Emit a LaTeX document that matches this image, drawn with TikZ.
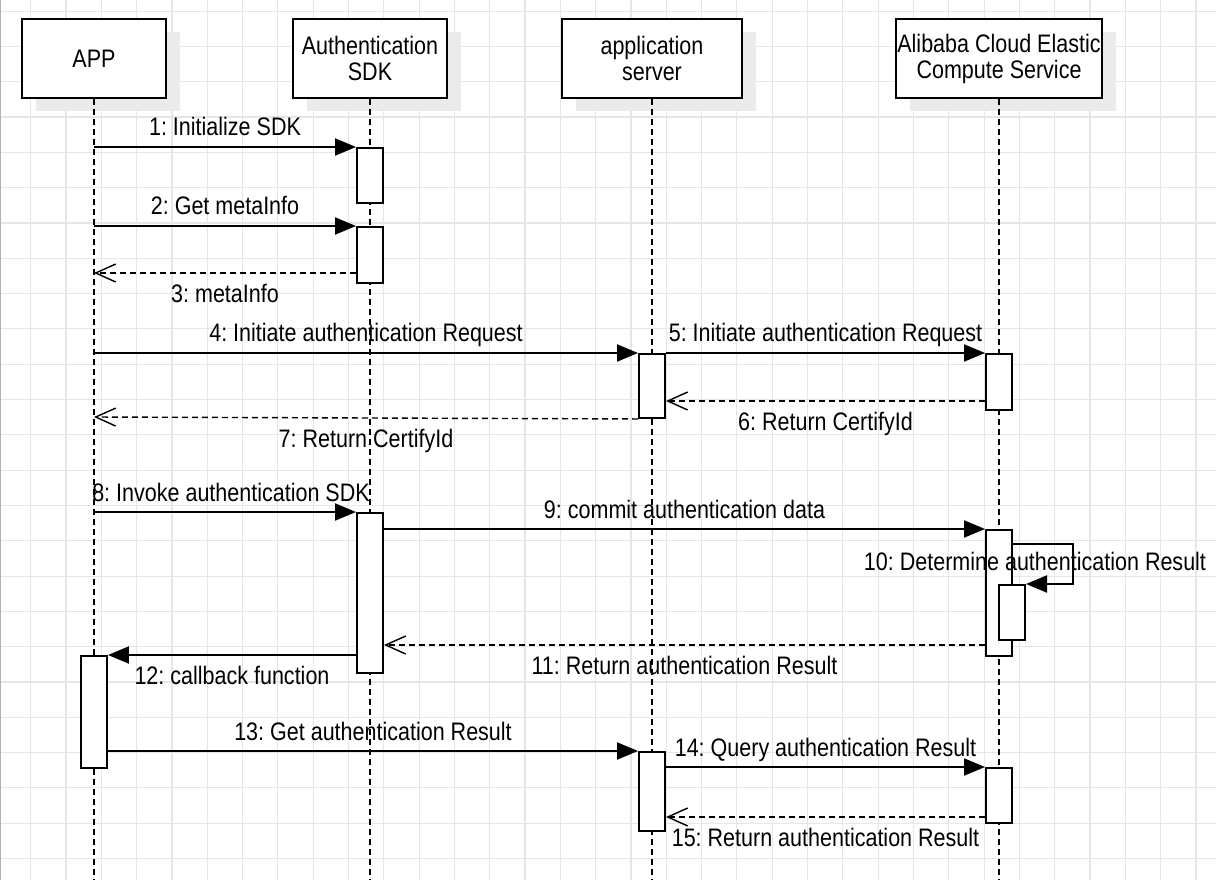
\documentclass[tikz,border=0pt]{standalone}
\usepackage{fontspec}
\setmainfont{Liberation Sans}[FakeStretch=0.85]
\usetikzlibrary{arrows.meta,calc,shadows}
\definecolor{gridgray}{HTML}{E6E6E6}
\definecolor{shadegray}{HTML}{EBEBEB}
\newcommand{\actbar}[4]{\node[act,minimum height=#4*0.025cm] (#1) at (#2,#3) {};}

\begin{document}
\begin{tikzpicture}[x=0.025cm,y=-0.025cm,font=\fontsize{18}{18.5}\selectfont\frenchspacing,
  head/.style={draw,line width=1.4pt,fill=white,align=center,inner sep=0pt,minimum height=1.975cm,
    general shadow={fill=shadegray,draw=none,shadow xshift=0.35cm,shadow yshift=-0.33cm}},
  act/.style={draw,line width=1.4pt,fill=white,anchor=north,minimum width=0.65cm,inner sep=0pt},
  life/.style={line width=1.3pt,dash pattern=on 0.15cm off 0.1cm},
  gridline/.style={gridgray,line width=0.8pt},
  msg/.style={line width=1.4pt,-{Triangle[length=0.525cm,width=0.425cm]}},
  ret/.style={line width=1pt,dash pattern=on 0.15cm off 0.1cm,-{Straight Barb[length=0.5cm,width=0.45cm,line width=1pt]}},
  txtup/.style={midway,anchor=base,yshift=0.275cm,inner sep=0pt},
  txtdown/.style={midway,anchor=base,yshift=-0.74cm,inner sep=0pt}]
\useasboundingbox[fill=white] (0,0) rectangle (1216,880);
% background grid
\foreach \i in {0,...,33} \draw[gridline] (30.7+35.31*\i,0) -- (30.7+35.31*\i,880);
\foreach \j in {0,...,24} \draw[gridline] (0,11.1+35.31*\j) -- (1216,11.1+35.31*\j);
\draw[gray!60,line width=1pt] (0.5,0) -- (0.5,880);

% participants
\node[head,minimum width=3.6cm] (app) at (94,58.5) {APP};
\node[head,minimum width=3.85cm] (sdk) at (370,58.5) {Authentication\\SDK};
\node[head,minimum width=4.5cm] (srv) at (652,58.5) {application\\server};
\node[head,minimum width=5.15cm] (ecs) at (999,58.5) {Alibaba Cloud Elastic\\Compute Service};
\foreach \h in {app,sdk,srv,ecs} \draw[life] (\h.south) -- (\h.south |- 0,880);

% activations
\actbar{sdkA}{370}{147}{55}
\actbar{sdkB}{370}{226}{56}
\actbar{srvA}{652}{353}{64}
\actbar{ecsA}{999}{353}{56}
\actbar{sdkC}{370}{512}{160}
\actbar{ecsB}{999}{529}{126}
\actbar{ecsC}{1012}{584}{55}
\actbar{appA}{94}{655}{112}
\actbar{srvB}{652}{751}{79}
\actbar{ecsD}{999}{767}{55}

% messages
\draw[msg] (app |- 0,147) -- (sdkA.north west) node[txtup] (m1) {1: Initialize SDK};
\draw[msg] (app |- 0,226) -- (sdkB.north west) node[txtup] (m2) {2: Get metaInfo};
\draw[ret] (sdkB.west |- 0,273) -- (app |- 0,273) node[txtdown] (m3) {3: metaInfo};
\draw[msg] (app |- 0,353) -- (srvA.north west) node[txtup] (m4) {4: Initiate authentication Request};
\draw[msg] (srvA.north east) -- (ecsA.north west) node[txtup] (m5) {5: Initiate authentication Request};
\draw[ret] (ecsA.west |- 0,401) -- (srvA.east |- 0,401) node[txtdown] (m6) {6: Return CertifyId};
\draw[ret] (srvA.south west) -- (app |- 0,417) node[txtdown] (m7) {7: Return CertifyId};
\draw[msg] (app |- 0,512) -- (sdkC.north west) node[txtup,xshift=0.15cm] (m8) {8: Invoke authentication SDK};
\draw[msg] (sdkC.east |- 0,529) -- (ecsB.north west) node[txtup] (m9) {9: commit authentication data};
\draw[msg] (ecsB.east |- 0,544) -- ++(60,0) |- (ecsC.north east);
\node[anchor=base,inner sep=0pt] (m10) at (1035,570) {10: Determine authentication Result};
\draw[ret] (ecsB.west |- 0,645) -- (sdkC.east |- 0,645) node[txtdown] (m11) {11: Return authentication Result};
\draw[msg] (sdkC.west |- 0,655) -- (appA.north east) node[txtdown] (m12) {12: callback function};
\draw[msg] (appA.east |- 0,751) -- (srvB.north west) node[txtup] (m13) {13: Get authentication Result};
\draw[msg] (srvB.east |- 0,767) -- (ecsD.north west) node[txtup] (m14) {14: Query authentication Result};
\draw[ret] (ecsD.west |- 0,817) -- (srvB.east |- 0,817) node[txtdown] (m15) {15: Return authentication Result};
\end{tikzpicture}
\end{document}
